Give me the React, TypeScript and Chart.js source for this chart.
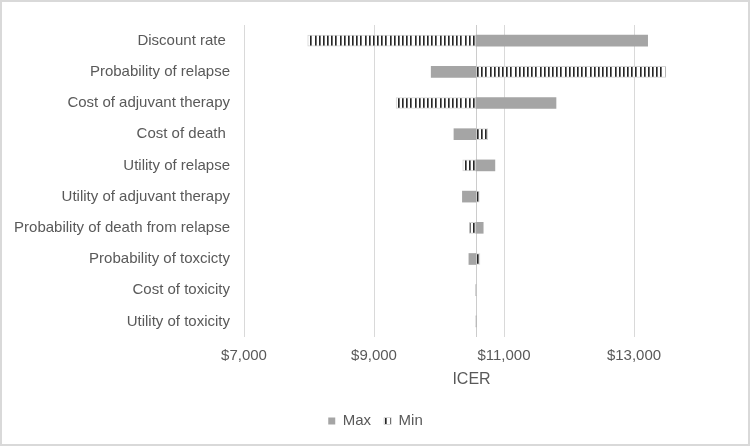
import React, { useEffect, useRef } from 'react';
import { Chart, registerables } from 'chart.js';

Chart.register(...registerables);

const categories = [
  'Discount rate ',
  'Probability of relapse',
  'Cost of adjuvant therapy',
  'Cost of death ',
  'Utility of relapse',
  'Utility of adjuvant therapy',
  'Probability of death from relapse',
  'Probability of toxcicty',
  'Cost of toxicity',
  'Utility of toxicity',
];
const baseline = 10570;
const maxValues = [13210, 9880, 11800, 10230, 10860, 10360, 10680, 10460, 10567, 10572];
const minValues = [7980, 13490, 9340, 10750, 10365, 10620, 10465, 10630, 10572, 10567];
const xTickValues = [7000, 9000, 11000, 13000];
const xMin = 7000;
const xMax = 14000;
const seriesNames = ['Max', 'Min'];
const axisTitle = 'ICER';

const FONT = "'Liberation Sans', Arial, sans-serif";
const TEXT = '#595959';

function makePattern(): CanvasPattern | string {
  const c = document.createElement('canvas');
  c.width = 25;
  c.height = 4;
  const g = c.getContext('2d');
  if (!g) return '#ffffff';
  g.fillStyle = '#ffffff';
  g.fillRect(0, 0, 25, 4);
  const stripes = [0, 4, 8, 13, 17, 21];
  stripes.forEach((sx) => {
    g.fillStyle = '#262626';
    g.fillRect(sx, 0, 1, 4);
    g.fillStyle = 'rgba(38,38,38,0.65)';
    g.fillRect(sx + 1, 0, 1, 4);
  });
  const p = g.createPattern(c, 'repeat');
  return p || '#ffffff';
}

const baselinePlugin = {
  id: 'baselineLine',
  afterLayout(chart: any) {
    const lg = chart.legend;
    if (lg) {
      lg.left += 25;
      lg.right += 25;
    }
  },
  beforeDatasetsDraw(chart: any) {
    const { ctx, chartArea, scales } = chart;
    const x = Math.round(scales.x.getPixelForValue(baseline)) + 0.5;
    ctx.save();
    ctx.strokeStyle = '#cccccc';
    ctx.lineWidth = 1;
    ctx.beginPath();
    ctx.moveTo(x, chartArea.top);
    ctx.lineTo(x, chartArea.bottom);
    ctx.stroke();
    ctx.restore();
  },
};

export default function App() {
  const ref = useRef<HTMLCanvasElement | null>(null);

  useEffect(() => {
    if (!ref.current) return;
    const pattern = makePattern();
    const chart = new Chart(ref.current, {
      type: 'bar',
      data: {
        labels: categories,
        datasets: [
          {
            label: seriesNames[0],
            data: maxValues.map((v) => [baseline, v]) as any,
            backgroundColor: '#a5a5a5',
            borderColor: '#a5a5a5',
            borderWidth: 0,
            borderSkipped: false,
            barThickness: 11,
            grouped: false,
          } as any,
          {
            label: seriesNames[1],
            data: minValues.map((v) => [baseline, v]) as any,
            backgroundColor: pattern as any,
            borderColor: '#d4d4d4',
            borderWidth: 1,
            borderSkipped: false,
            barThickness: 11,
            grouped: false,
          } as any,
        ],
      },
      options: {
        indexAxis: 'y',
        responsive: false,
        animation: false,
        devicePixelRatio: 1,
        layout: { padding: { top: 18, right: 49, bottom: 5.5, left: 0 } },
        font: { family: FONT },
        scales: {
          x: {
            type: 'linear',
            min: xMin,
            max: xMax,
            afterBuildTicks: (s: any) => {
              s.ticks = xTickValues.map((v) => ({ value: v }));
            },
            afterFit: (s: any) => {
              s.height = 63.5;
            },
            grid: { color: '#d9d9d9', lineWidth: 1, drawTicks: false },
            border: { display: false },
            ticks: {
              padding: 10,
              color: TEXT,
              font: { family: FONT, size: 15 },
              maxRotation: 0,
              callback: (v: any) => '$' + Number(v).toLocaleString('en-US'),
            },
            title: {
              display: true,
              text: axisTitle,
              color: TEXT,
              font: { family: FONT, size: 16 },
              padding: { top: 0, bottom: 11.4 },
            },
          },
          y: {
            type: 'category',
            afterFit: (s: any) => {
              s.width = 242;
            },
            grid: { display: false, drawTicks: false },
            border: { display: false },
            ticks: {
              padding: 14,
              color: TEXT,
              font: { family: FONT, size: 15 },
              autoSkip: false,
            },
          },
        },
        plugins: {
          tooltip: { enabled: false },
          legend: {
            position: 'bottom',
            labels: {
              boxWidth: 7,
              boxHeight: 7,
              padding: 13,
              color: TEXT,
              font: { family: FONT, size: 15 },
            },
          },
        },
      },
      plugins: [baselinePlugin],
    });
    return () => chart.destroy();
  }, []);

  return (
    <div
      style={{
        position: 'fixed',
        left: 0,
        top: 0,
        width: 750,
        height: 446,
        boxSizing: 'border-box',
        border: '2px solid #d9d9d9',
        background: '#ffffff',
      }}
    >
      <canvas ref={ref} width={746} height={442} style={{ display: 'block', width: 746, height: 442 }} />
    </div>
  );
}
